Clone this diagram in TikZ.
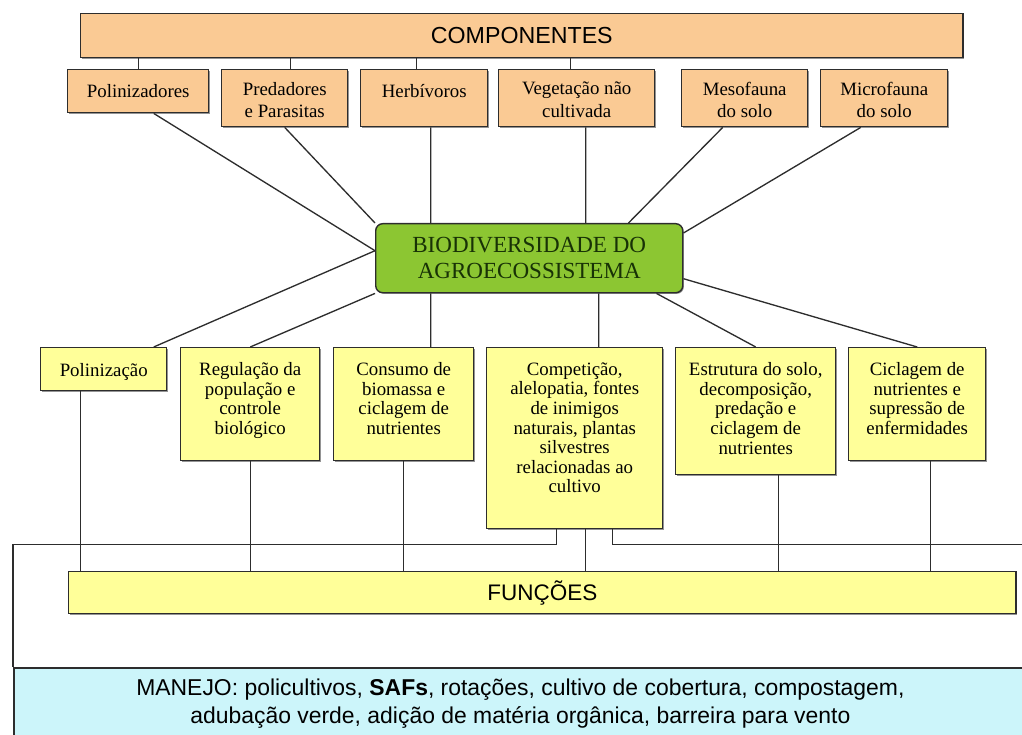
\documentclass[tikz,border=0pt]{standalone}
\usepackage{fontspec}
\setmainfont{Liberation Serif}
\setsansfont{Liberation Sans}
\usetikzlibrary{calc, shadows}

\definecolor{compfill}{RGB}{250,202,148}
\definecolor{funcfill}{RGB}{255,255,153}
\definecolor{biofill}{RGB}{140,198,50}
\definecolor{biotext}{RGB}{24,50,6}
\definecolor{manfill}{RGB}{204,245,250}
\definecolor{edgec}{RGB}{45,45,45}

\tikzset{
  box/.style={draw=edgec, line width=1pt, anchor=north west, inner sep=0pt,
    drop shadow={shadow xshift=0.8pt, shadow yshift=-0.8pt, opacity=0.6, fill=black!70}},
  compbox/.style={box, fill=compfill},
  funcbox/.style={box, fill=funcfill},
  toptext/.style={anchor=north, align=center, inner sep=0pt, yshift=-9.2pt,
    font=\fontsize{13.4}{15.8}\selectfont, execute at begin node=\strut},
  bottext/.style={anchor=north, align=center, inner sep=0pt, yshift=-11pt,
    font=\fontsize{13.4}{13.9}\selectfont, execute at begin node=\strut},
  link/.style={draw=edgec, line width=0.95pt}
}

\begin{document}
\begin{tikzpicture}[x=0.025cm, y=-0.025cm]
  \useasboundingbox (0,0) rectangle (1022,735);
  \clip (0,0) rectangle (1022,735);

  % componentes
  \node[compbox, minimum width=22.05cm, minimum height=1.1cm,
        font=\sffamily\fontsize{16.5}{18}\selectfont] (comp) at (80,13) {COMPONENTES};
  \node[compbox, minimum width=3.525cm, minimum height=1.075cm,
        label={[toptext]north:Polinizadores}] (poli) at (67,69) {};
  \node[compbox, minimum width=3.15cm, minimum height=1.425cm,
        label={[toptext]north:Predadores\\e Parasitas}] (pred) at (221,69) {};
  \node[compbox, minimum width=3.175cm, minimum height=1.425cm,
        label={[toptext]north:Herbívoros}] (herb) at (360,69) {};
  \node[compbox, minimum width=3.9cm, minimum height=1.425cm,
        label={[toptext]north:Vegetação não\\cultivada}] (veg) at (498,69) {};
  \node[compbox, minimum width=3.15cm, minimum height=1.425cm,
        label={[toptext]north:Mesofauna\\do solo}] (meso) at (681,69) {};
  \node[compbox, minimum width=3.175cm, minimum height=1.425cm,
        label={[toptext]north:Microfauna\\do solo}] (micro) at (820,69) {};

  % centro
  \node[box, fill=biofill, rounded corners=5pt, minimum width=7.675cm, minimum height=1.725cm,
        align=center, text=biotext, font=\fontsize{16.4}{18.4}\selectfont]
        (bio) at (375,223) {BIODIVERSIDADE DO\\AGROECOSSISTEMA};

  % funcoes
  \node[funcbox, minimum width=3.15cm, minimum height=1.075cm,
        label={[bottext]north:Polinização}] (poliz) at (40,347) {};
  \node[funcbox, minimum width=3.475cm, minimum height=2.825cm,
        label={[bottext]north:Regulação da\\população e\\controle\\biológico}] (reg) at (180,347) {};
  \node[funcbox, minimum width=3.5cm, minimum height=2.825cm,
        label={[bottext]north:Consumo de\\biomassa e\\ciclagem de\\nutrientes}] (cons) at (333,347) {};
  \node[funcbox, minimum width=4.4cm, minimum height=4.525cm,
        label={[bottext]north:Competição,\\alelopatia, fontes\\de inimigos\\naturais, plantas\\silvestres\\relacionadas ao\\cultivo}] (compt) at (486,347) {};
  \node[funcbox, minimum width=4.0cm, minimum height=3.175cm,
        label={[bottext]north:Estrutura do solo,\\decomposição,\\predação e\\ciclagem de\\nutrientes}] (estr) at (675,347) {};
  \node[funcbox, minimum width=3.425cm, minimum height=2.825cm,
        label={[bottext]north:Ciclagem de\\nutrientes e\\supressão de\\enfermidades}] (cicl) at (848,347) {};
  \node[funcbox, minimum width=23.675cm, minimum height=1.05cm,
        font=\sffamily\fontsize{16}{18}\selectfont] (func) at (68,571) {FUNÇÕES};

  % manejo
  \node[draw=edgec, line width=1.1pt, fill=manfill, anchor=north west, inner sep=0pt,
        minimum width=25.325cm, minimum height=1.8cm, align=center,
        font=\sffamily\fontsize{16.3}{19.5}\selectfont] (manejo) at (13,667)
        {MANEJO: policultivos, \textbf{SAFs}, rotações, cultivo de cobertura, compostagem,\\
         adubação verde, adição de matéria orgânica, barreira para vento};

  % componentes -> caixas
  \draw[link] (poli.north) -- (poli.north |- comp.south)
    ($(pred.north)+(6,0)$) -- ($(pred.north |- comp.south)+(6,0)$)
    ($(herb.north)+(-8,0)$) -- ($(herb.north |- comp.south)+(-8,0)$)
    ($(veg.north)+(-6,0)$) -- ($(veg.north |- comp.south)+(-6,0)$);

  % caixas -> biodiversidade
  \draw[link] ($(poli.south)+(15.5,0)$) -- ($(bio.west)+(0,-7.5)$)
    (pred.south) -- (bio.north west)
    ($(herb.south)+(6.5,0)$) -- ($(herb.south |- bio.north)+(6.5,0)$)
    ($(veg.south)+(9,0)$) -- ($(veg.south |- bio.north)+(9,0)$)
    ($(meso.south)+(-22,0)$) -- ($(bio.north east)+(-55,0)$)
    ($(micro.south)+(-23.5,0)$) -- ($(bio.north east)+(0,10)$);

  % biodiversidade -> funcoes
  \draw[link] ($(bio.west)+(0,-7.5)$) -- ($(poliz.north)+(50,0)$)
    (bio.south west) -- (reg.north)
    ($(cons.north)+(27,0)$) -- ($(cons.north |- bio.south)+(27,0)$)
    ($(compt.north)+(24,0)$) -- ($(compt.north |- bio.south)+(24,0)$)
    ($(bio.south east)+(-27,0)$) -- (estr.north)
    ($(bio.east)+(0,20.5)$) -- (cicl.north);

  % funcoes -> FUNCOES
  \draw[link] ($(poliz.south)+(-23,0)$) -- ($(poliz.south |- func.north)+(-23,0)$)
    (reg.south) -- (reg.south |- func.north)
    (cons.south) -- (cons.south |- func.north)
    ($(compt.south)+(11,0)$) -- ($(compt.south |- func.north)+(11,0)$)
    ($(estr.south)+(23,0)$) -- ($(estr.south |- func.north)+(23,0)$)
    ($(cicl.south)+(13.5,0)$) -- ($(cicl.south |- func.north)+(13.5,0)$);

  % moldura do manejo
  \draw[link] ($(compt.south)+(-18,0)$) -- ++(0,15) -| (manejo.north west);
  \draw[link] ($(compt.south)+(38,0)$) -- ++(0,15) -| (manejo.north east);
\end{tikzpicture}
\end{document}
